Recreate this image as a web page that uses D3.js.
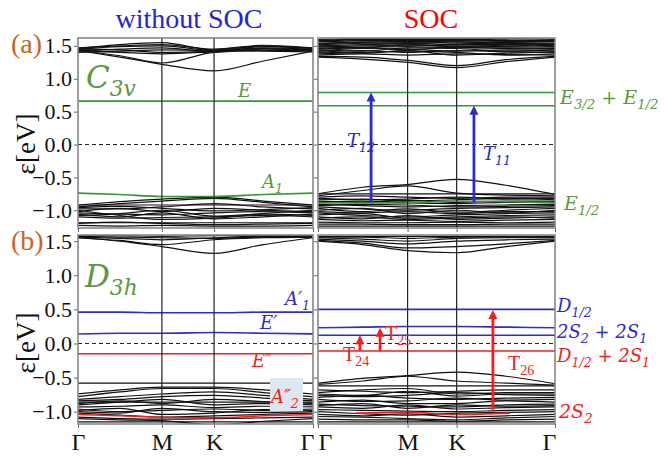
<!DOCTYPE html>
<html><head><meta charset="utf-8">
<script src="https://cdn.jsdelivr.net/npm/d3@7"></script>
<style>body{margin:0;background:#fff} svg{display:block}</style>
</head><body><svg id="chart" width="664" height="457"></svg>
<script>
// k-path and axes
const kLabels = ["Γ", "M", "K", "Γ"];
const kTicksNoSOC = [0, 0.357, 0.579, 1];
const kTicksSOC = [0, 0.378, 0.585, 1];
const yTicks = [-1.0, -0.5, 0.0, 0.5, 1.0, 1.5];

// band energies at Γ, ΓM-mid, M, K, KΓ-mid, Γ  (eV)
// (a) C3v without SOC
const aLCond = [
  [1.43, 1.33, 1.22, 1.12, 1.27, 1.42],
  [1.43, 1.35, 1.24, 1.40, 1.43, 1.43],
  [1.44, 1.40, 1.38, 1.41, 1.45, 1.44],
  [1.45, 1.44, 1.40, 1.42, 1.47, 1.45],
  [1.45, 1.49, 1.50, 1.43, 1.49, 1.46],
  [1.46, 1.52, 1.55, 1.44, 1.50, 1.46],
  [1.40, 1.42, 1.44, 1.43, 1.42, 1.41],
  [1.47, 1.50, 1.52, 1.45, 1.51, 1.47],
  [1.42, 1.45, 1.47, 1.41, 1.46, 1.43]
];
const aLVal = [
  [-0.92, -0.87, -0.83, -0.80, -0.86, -0.92],
  [-0.95, -0.90, -0.86, -0.82, -0.88, -0.95],
  [-0.92, -0.92, -0.92, -0.92, -0.92, -0.92],
  [-0.98, -0.98, -0.95, -0.90, -0.95, -0.98],
  [-1.02, -0.97, -1.02, -0.97, -1.00, -1.02],
  [-1.04, -1.06, -1.07, -1.04, -1.02, -1.04],
  [-1.08, -1.05, -1.00, -1.09, -1.06, -1.08],
  [-1.10, -1.12, -1.11, -1.10, -1.08, -1.10],
  [-1.00, -1.08, -1.14, -1.12, -1.05, -1.00],
  [-0.96, -0.94, -0.97, -1.01, -0.99, -0.96],
  [-1.06, -1.10, -1.04, -1.13, -1.10, -1.06],
  [-1.19, -1.19, -1.19, -1.19, -1.19, -1.19],
  [-1.20, -1.18, -1.20, -1.22, -1.21, -1.20],
  [-1.23, -1.24, -1.23, -1.24, -1.24, -1.23]
];
const aLE = [0.66, 0.66, 0.66, 0.66, 0.66, 0.66];
const aLA1 = [-0.74, -0.76, -0.79, -0.79, -0.76, -0.74];

// (a) C3v with SOC
const aRCond = [
  [1.33, 1.30, 1.25, 1.17, 1.26, 1.33],
  [1.34, 1.33, 1.28, 1.20, 1.29, 1.34],
  [1.36, 1.38, 1.36, 1.38, 1.37, 1.36],
  [1.38, 1.40, 1.42, 1.40, 1.36, 1.38],
  [1.40, 1.43, 1.40, 1.43, 1.41, 1.40],
  [1.41, 1.39, 1.43, 1.36, 1.39, 1.41],
  [1.42, 1.46, 1.45, 1.42, 1.44, 1.42],
  [1.44, 1.42, 1.47, 1.46, 1.42, 1.44],
  [1.45, 1.47, 1.44, 1.48, 1.46, 1.45],
  [1.46, 1.48, 1.49, 1.47, 1.47, 1.46],
  [1.48, 1.50, 1.51, 1.50, 1.49, 1.48],
  [1.49, 1.47, 1.52, 1.49, 1.51, 1.49],
  [1.50, 1.52, 1.53, 1.52, 1.52, 1.50],
  [1.52, 1.54, 1.55, 1.54, 1.53, 1.52],
  [1.53, 1.55, 1.53, 1.56, 1.54, 1.53],
  [1.54, 1.56, 1.57, 1.56, 1.55, 1.54],
  [1.56, 1.58, 1.59, 1.58, 1.57, 1.56],
  [1.57, 1.59, 1.58, 1.59, 1.58, 1.57],
  [1.58, 1.60, 1.60, 1.60, 1.59, 1.58],
  [1.60, 1.61, 1.61, 1.61, 1.61, 1.60]
];
const aRVal = [
  [-0.75, -0.65, -0.61, -0.53, -0.62, -0.76],
  [-0.78, -0.70, -0.63, -0.74, -0.77, -0.78],
  [-0.75, -0.75, -0.75, -0.75, -0.75, -0.75],
  [-0.80, -0.78, -0.80, -0.82, -0.80, -0.80],
  [-0.82, -0.84, -0.83, -0.80, -0.83, -0.82],
  [-0.84, -0.83, -0.86, -0.84, -0.82, -0.84],
  [-0.86, -0.88, -0.85, -0.88, -0.86, -0.86],
  [-0.88, -0.86, -0.89, -0.90, -0.88, -0.88],
  [-0.91, -0.93, -0.95, -0.93, -0.92, -0.91],
  [-0.93, -0.91, -0.92, -0.95, -0.94, -0.93],
  [-0.95, -0.98, -1.00, -0.97, -0.96, -0.95],
  [-0.97, -1.02, -0.98, -1.03, -1.00, -0.97],
  [-1.00, -0.97, -1.05, -1.00, -1.04, -1.00],
  [-1.02, -1.04, -1.02, -1.05, -1.02, -1.02],
  [-1.04, -1.08, -1.10, -1.07, -1.05, -1.04],
  [-1.07, -1.05, -1.12, -1.10, -1.08, -1.07],
  [-1.10, -1.13, -1.08, -1.14, -1.12, -1.10],
  [-1.12, -1.10, -1.14, -1.12, -1.10, -1.12],
  [-1.14, -1.16, -1.15, -1.17, -1.15, -1.14],
  [-1.18, -1.19, -1.19, -1.18, -1.19, -1.18],
  [-1.21, -1.21, -1.22, -1.22, -1.21, -1.21],
  [-1.24, -1.24, -1.24, -1.24, -1.24, -1.24]
];
const aRE32 = [0.79, 0.79, 0.79, 0.79, 0.79, 0.79];
const aRE12up = [0.59, 0.59, 0.59, 0.59, 0.59, 0.59];
const aRE12 = [-0.89, -0.89, -0.89, -0.86, -0.87, -0.89];
// transitions: [name, index, k, from, to]
const aRArrows = [["T", "12", 0.224, -0.88, 0.79], ["T", "11", 0.658, -0.88, 0.59]];

// (b) D3h without SOC
const bLCond = [
  [1.55, 1.50, 1.42, 1.32, 1.45, 1.55],
  [1.55, 1.51, 1.45, 1.52, 1.55, 1.56],
  [1.56, 1.54, 1.52, 1.55, 1.57, 1.56],
  [1.57, 1.56, 1.55, 1.54, 1.56, 1.57],
  [1.58, 1.58, 1.57, 1.58, 1.58, 1.58]
];
const bLVal = [
  [-0.58, -0.58, -0.58, -0.58, -0.58, -0.58],
  [-0.74, -0.68, -0.64, -0.64, -0.68, -0.74],
  [-0.78, -0.71, -0.66, -0.66, -0.72, -0.78],
  [-0.82, -0.78, -0.74, -0.71, -0.76, -0.82],
  [-0.84, -0.82, -0.78, -0.76, -0.80, -0.84],
  [-0.86, -0.86, -0.86, -0.86, -0.86, -0.86],
  [-0.88, -0.84, -0.88, -0.82, -0.85, -0.88],
  [-0.90, -0.86, -0.82, -0.90, -0.88, -0.90],
  [-0.93, -0.92, -0.90, -0.94, -0.92, -0.93],
  [-0.96, -1.00, -0.98, -0.96, -0.98, -0.96],
  [-0.98, -0.95, -1.04, -1.02, -0.97, -0.98],
  [-1.00, -1.02, -0.95, -1.00, -1.01, -1.00],
  [-1.02, -1.05, -1.08, -1.06, -1.04, -1.02],
  [-1.08, -1.10, -1.11, -1.10, -1.09, -1.08],
  [-1.10, -1.12, -1.13, -1.19, -1.14, -1.10],
  [-1.15, -1.15, -1.15, -1.15, -1.15, -1.15]
];
const bLA1 = [0.46, 0.46, 0.45, 0.45, 0.46, 0.46];
const bLEp = [0.14, 0.15, 0.15, 0.16, 0.15, 0.14];
const bLEpp = [-0.15, -0.15, -0.15, -0.15, -0.15, -0.15];
const bLA2 = [-1.04, -1.06, -1.08, -1.09, -1.06, -1.04];

// (b) D3h with SOC
const bRCond = [
  [1.50, 1.45, 1.36, 1.33, 1.42, 1.50],
  [1.51, 1.47, 1.40, 1.42, 1.46, 1.51],
  [1.53, 1.50, 1.46, 1.50, 1.52, 1.53],
  [1.55, 1.53, 1.50, 1.54, 1.55, 1.55],
  [1.56, 1.56, 1.54, 1.56, 1.56, 1.56],
  [1.57, 1.57, 1.57, 1.57, 1.57, 1.57]
];
const bRVal = [
  [-0.58, -0.51, -0.47, -0.42, -0.48, -0.59],
  [-0.60, -0.55, -0.48, -0.55, -0.58, -0.61],
  [-0.62, -0.62, -0.62, -0.62, -0.62, -0.62],
  [-0.68, -0.70, -0.72, -0.70, -0.68, -0.68],
  [-0.72, -0.68, -0.66, -0.74, -0.72, -0.72],
  [-0.74, -0.76, -0.70, -0.77, -0.74, -0.74],
  [-0.76, -0.78, -0.76, -0.72, -0.75, -0.76],
  [-0.79, -0.76, -0.80, -0.82, -0.80, -0.79],
  [-0.82, -0.85, -0.84, -0.80, -0.83, -0.82],
  [-0.86, -0.83, -0.88, -0.88, -0.84, -0.86],
  [-0.89, -0.91, -0.92, -0.93, -0.90, -0.89],
  [-0.91, -0.88, -0.95, -0.90, -0.92, -0.91],
  [-0.93, -0.95, -0.90, -0.96, -0.94, -0.93],
  [-0.97, -0.98, -0.99, -1.00, -0.98, -0.97],
  [-1.00, -1.03, -1.05, -1.02, -1.01, -1.00],
  [-1.04, -1.06, -1.03, -1.08, -1.06, -1.04],
  [-1.07, -1.08, -1.10, -1.12, -1.09, -1.07],
  [-1.11, -1.12, -1.12, -1.14, -1.12, -1.11],
  [-1.15, -1.15, -1.15, -1.15, -1.15, -1.15]
];
const bRD12 = [0.50, 0.50, 0.50, 0.50, 0.50, 0.50];
const bRS21a = [0.23, 0.24, 0.25, 0.25, 0.24, 0.23];
const bRS21b = [0.12, 0.12, 0.12, 0.12, 0.12, 0.12];
const bRD12S = [-0.11, -0.11, -0.11, -0.11, -0.11, -0.11];
const bRS2k = [0.16, 0.378, 0.585, 0.81];
const bRS2E = [-1.02, -1.01, -1.04, -1.02];
const bRArrows = [["T", "24", 0.177, -0.11, 0.12], ["T", "25", 0.262, -0.11, 0.23], ["T", "26", 0.738, -0.97, 0.49]];

const green = "#339933", greenText = "#5b9a3c", blue = "#2b2bd9", red = "#ff1a1a";
const serif = "Liberation Serif";
const math = "DejaVu Serif";

const svg = d3.select("#chart");

function samples(t) { return [t[0], (t[0] + t[1]) / 2, t[1], t[2], (t[2] + t[3]) / 2, t[3]]; }

// text with sub/superscripts: parts = [[str, 0|1]]
function rich(x, y, parts, size, color, family, italic, anchor) {
  const t = svg.append("text").attr("x", x).attr("y", y)
    .style("font-family", family).attr("font-size", size)
    .attr("fill", color).attr("text-anchor", anchor || "start");
  if (italic) t.attr("font-style", "italic");
  let cur = 0;
  parts.forEach(p => {
    const want = p[1] === 1 ? size * 0.26 : 0;
    const ts = t.append("tspan").text(p[0]).attr("dy", want - cur);
    if (p[1]) ts.attr("font-size", size * 0.7);
    cur = want;
  });
  return t;
}

const panels = [
  { x0: 78, x1: 313, y0: 38, y1: 228, dom: [-1.27, 1.62], kt: kTicksNoSOC, bands: aLCond.concat(aLVal),
    lines: [[aLE, green], [aLA1, green]], labels: true, xlab: false, shift: [0, 0, 0, -6] },
  { x0: 318, x1: 555, y0: 38, y1: 228, dom: [-1.27, 1.62], kt: kTicksSOC, bands: aRCond.concat(aRVal),
    lines: [[aRE32, green], [aRE12up, green], [aRE12, green]], arrows: aRArrows, arrowColor: "#2a2ad0",
    labels: false, xlab: false, shift: [7, 0, 0, -6] },
  { x0: 78, x1: 313, y0: 235, y1: 424, dom: [-1.18, 1.59], kt: kTicksNoSOC, bands: bLCond.concat(bLVal),
    lines: [[bLA1, blue], [bLEp, blue], [bLEpp, red], [bLA2, red]], labels: true, xlab: true, shift: [0, 0, 0, -6] },
  { x0: 318, x1: 555, y0: 235, y1: 424, dom: [-1.18, 1.59], kt: kTicksSOC, bands: bRCond.concat(bRVal),
    lines: [[bRD12, blue], [bRS21a, blue], [bRS21b, blue], [bRD12S, red]], arrows: bRArrows, arrowColor: red,
    labels: false, xlab: true, extra: true, shift: [7, 0, 0, -6] }
];

const defs = svg.append("defs");

panels.forEach((p, i) => {
  const x = d3.scaleLinear().domain([0, 1]).range([p.x0, p.x1]);
  const y = d3.scaleLinear().domain(p.dom).range([p.y1, p.y0]);
  const ks = samples(p.kt);
  defs.append("clipPath").attr("id", "clip" + i).append("rect")
    .attr("x", p.x0).attr("y", p.y0).attr("width", p.x1 - p.x0).attr("height", p.y1 - p.y0);
  const g = svg.append("g").attr("clip-path", `url(#clip${i})`);
  const line = d3.line().x((d, j) => x(ks[j])).y(d => y(d)).curve(d3.curveMonotoneX);

  g.selectAll("path.band").data(p.bands).join("path").attr("class", "band")
    .attr("d", line).attr("fill", "none").attr("stroke", "#111").attr("stroke-width", 1.2);

  if (p.extra) {
    const l2 = d3.line().x((d, j) => x(bRS2k[j])).y(d => y(d)).curve(d3.curveMonotoneX);
    g.append("path").attr("d", l2(bRS2E)).attr("fill", "none").attr("stroke", red).attr("stroke-width", 1.6);
  }
  g.selectAll("path.lev").data(p.lines).join("path").attr("class", "lev")
    .attr("d", d => line(d[0])).attr("fill", "none").attr("stroke", d => d[1]).attr("stroke-width", 1.6);

  g.append("line").attr("x1", p.x0).attr("x2", p.x1).attr("y1", y(0)).attr("y2", y(0))
    .attr("stroke", "#222").attr("stroke-width", 1.2).attr("stroke-dasharray", "4,3");

  g.selectAll("line.kv").data(p.kt.slice(1, 3)).join("line").attr("class", "kv")
    .attr("x1", d => x(d)).attr("x2", d => x(d)).attr("y1", p.y0).attr("y2", p.y1)
    .attr("stroke", "#222").attr("stroke-width", 1.2);

  // y axis
  const ya = svg.append("g").attr("transform", `translate(${p.x0},0)`)
    .call(d3.axisLeft(y).tickValues(yTicks).tickSize(4).tickFormat(p.labels ? d3.format(".1f") : ""));
  ya.select(".domain").remove();
  ya.selectAll(".tick line").attr("stroke", "#666");
  ya.selectAll("text").style("font-family", serif).attr("font-size", 22).attr("fill", "#111").attr("dx", "0.05em");
  // x axis
  const xa = svg.append("g").attr("transform", `translate(0,${p.y1})`)
    .call(d3.axisBottom(x).tickValues(p.kt).tickSize(4).tickFormat((d, j) => p.xlab ? kLabels[j] : ""));
  xa.select(".domain").remove();
  xa.selectAll(".tick line").attr("stroke", "#666");
  xa.selectAll("text").style("font-family", serif).attr("font-size", 24).attr("fill", "#111")
    .attr("dy", "0.8em").attr("dx", (d, j) => p.shift[j]);

  svg.append("rect").attr("x", p.x0).attr("y", p.y0).attr("width", p.x1 - p.x0).attr("height", p.y1 - p.y0)
    .attr("fill", "none").attr("stroke", "#888").attr("stroke-width", 1.6);

  if (p.arrows) {
    p.arrows.forEach(a => {
      const ax = x(a[2]), yb = y(a[3]), yt = y(a[4]);
      svg.append("line").attr("x1", ax).attr("x2", ax).attr("y1", yb).attr("y2", yt + 8)
        .attr("stroke", p.arrowColor).attr("stroke-width", 2.8);
      svg.append("path").attr("d", `M${ax - 4.5},${yt + 9}L${ax},${yt}L${ax + 4.5},${yt + 9}Z`)
        .attr("fill", p.arrowColor);
    });
  }
});

// titles
svg.append("text").attr("x", 189).attr("y", 28).attr("text-anchor", "middle")
  .style("font-family", serif).attr("font-size", 28).attr("fill", "#2424d8").text("without SOC");
svg.append("text").attr("x", 431).attr("y", 28).attr("text-anchor", "middle")
  .style("font-family", serif).attr("font-size", 28).attr("fill", "#ff0000").text("SOC");
svg.append("text").attr("x", 11).attr("y", 53).style("font-family", serif).attr("font-size", 28)
  .attr("fill", "#c8641e").text("(a)");
svg.append("text").attr("x", 11).attr("y", 250).style("font-family", serif).attr("font-size", 28)
  .attr("fill", "#c8641e").text("(b)");
[144, 343].forEach(cy => {
  svg.append("text").attr("transform", `translate(35,${cy}) rotate(-90)`).attr("text-anchor", "middle")
    .style("font-family", serif).attr("font-size", 27).attr("fill", "#111").text("ε[eV]");
});

// point-group labels
rich(86, 88, [["C", 0], ["3v", 1]], 31, greenText, math, true);
rich(85, 287, [["D", 0], ["3h", 1]], 31, greenText, math, true);

// (a) left
rich(238, 97, [["E", 0]], 18, greenText, math, true);
rich(262, 188, [["A", 0], ["1", 1]], 18, greenText, math, true);
// (a) right
rich(560, 104, [["E", 0], ["3/2", 1], [" + ", 0], ["E", 0], ["1/2", 1]], 19, greenText, math, true);
rich(564, 210, [["E", 0], ["1/2", 1]], 19, greenText, math, true);
rich(347, 147, [["T", 0], ["12", 1]], 18, "#2a2ad0", math, true);
rich(483, 160, [["T", 0], ["11", 1]], 18, "#2a2ad0", math, true);

// (b) left
rich(285, 305, [["A′", 0], ["1", 1]], 18, blue, math, true);
rich(260, 329, [["E′", 0]], 18, blue, math, true);
rich(252, 367, [["E″", 0]], 18, red, math, true);
svg.append("rect").attr("x", 270).attr("y", 378).attr("width", 33).attr("height", 33).attr("fill", "#dde7f2");
rich(271, 403, [["A″", 0], ["2", 1]], 18, red, math, true);

// (b) right
rich(557, 312, [["D", 0], ["1/2", 1]], 18, blue, math, true);
rich(557, 338, [["2", 0], ["S", 0], ["2", 1], [" + 2", 0], ["S", 0], ["1", 1]], 18, blue, math, true);
rich(557, 362, [["D", 0], ["1/2", 1], [" + 2", 0], ["S", 0], ["1", 1]], 18, red, math, true);
rich(559, 418, [["2", 0], ["S", 0], ["2", 1]], 19, red, math, true);
rich(343, 361, [["T", 0], ["24", 1]], 20, red, serif, false);
rich(385, 340, [["T", 0], ["25", 1]], 20, red, serif, false);
rich(508, 370, [["T", 0], ["26", 1]], 20, red, serif, false);
</script></body></html>
